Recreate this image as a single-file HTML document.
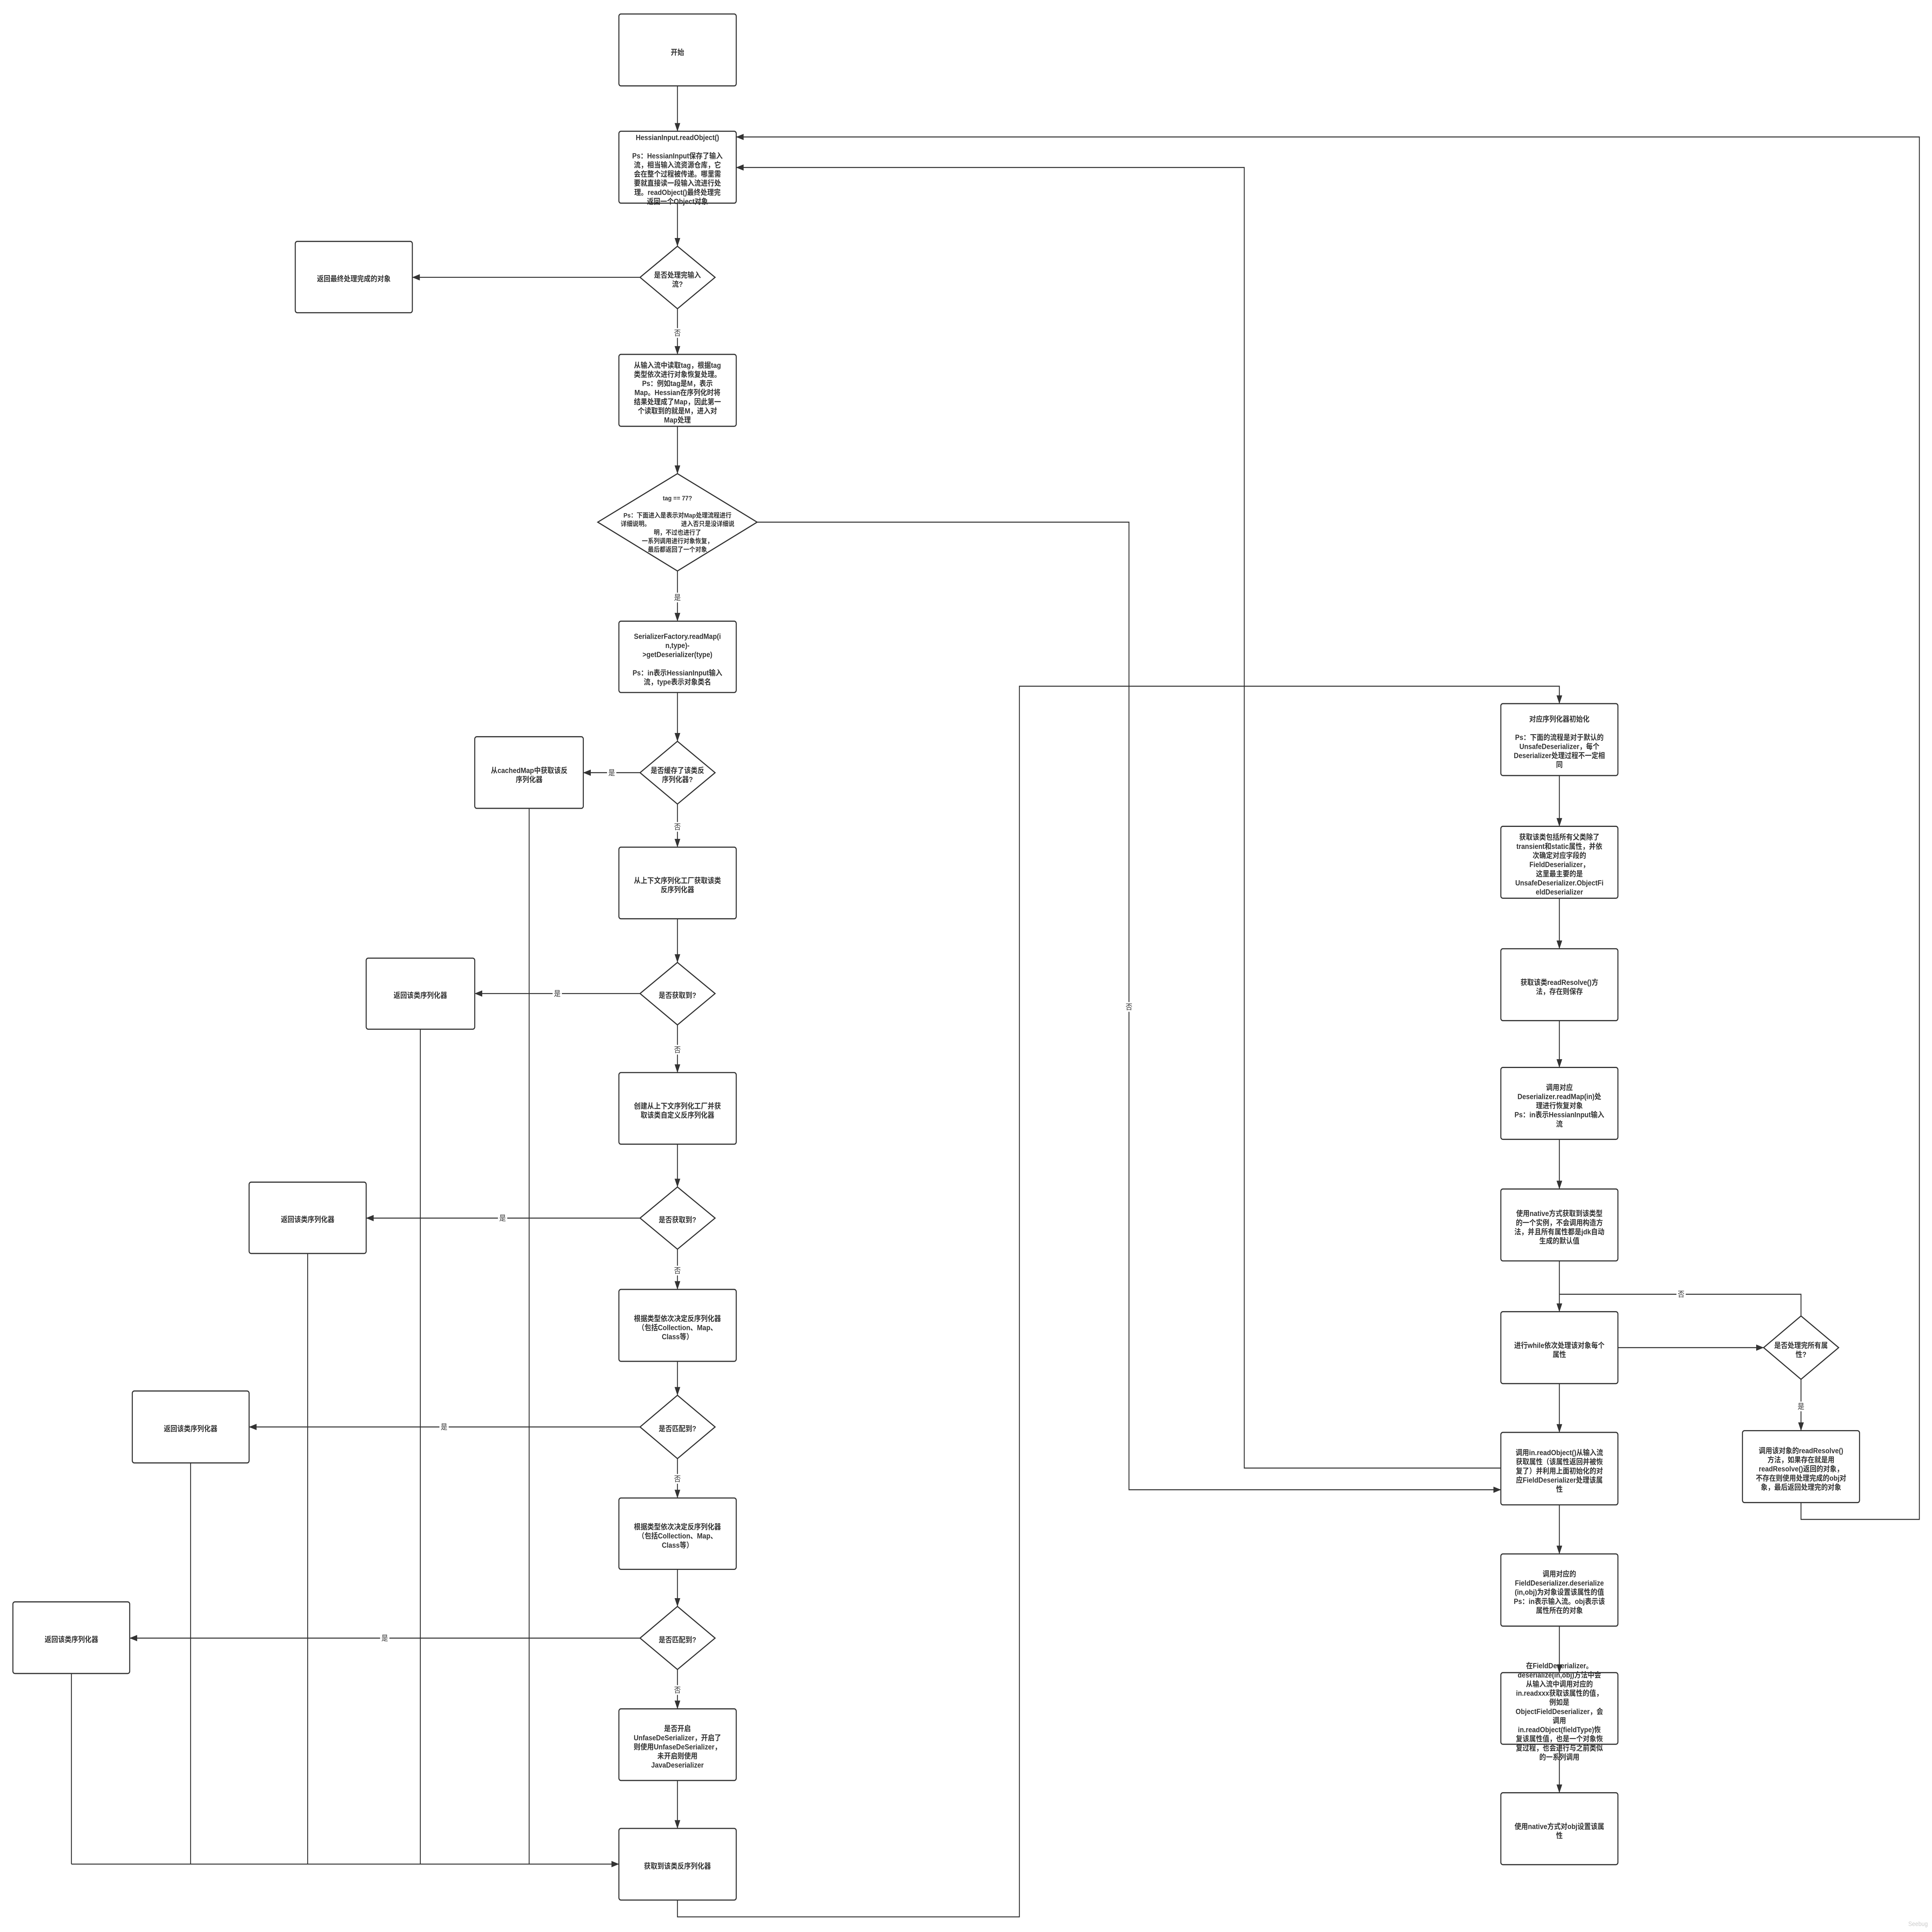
<!DOCTYPE html>
<html>
<head>
<meta charset="utf-8">
<style>
html,body{margin:0;padding:0;background:#fff;width:100vw;height:100vh;overflow:hidden;}
svg{position:fixed;left:0;top:0;width:100vw;height:100vh;display:block;}
</style>
</head>
<body>
<svg viewBox="0 0 7492 6771" preserveAspectRatio="none" xmlns="http://www.w3.org/2000/svg">
<defs>
<marker id="a" viewBox="0 0 30 22" refX="29" refY="11" markerWidth="30" markerHeight="22" orient="auto" markerUnits="userSpaceOnUse"><path d="M0,0L30,11L0,22z" fill="#333"/></marker>
</defs>
<rect x="0" y="0" width="7492" height="6771" fill="#fff"/>
<g fill="#fff" stroke="#333" stroke-width="4">
<rect x="2400" y="49" width="455" height="252" rx="8"/>
<rect x="2400" y="460" width="455" height="252" rx="8"/>
<polygon points="2627,863 2773,972 2627,1082 2482,972"/>
<rect x="2400" y="1242" width="455" height="252" rx="8"/>
<polygon points="2627,1660 2936,1830 2627,2001 2318,1830"/>
<rect x="2400" y="2177" width="455" height="250" rx="8"/>
<polygon points="2627,2598 2773,2708 2627,2818 2482,2708"/>
<rect x="2400" y="2969" width="455" height="251" rx="8"/>
<polygon points="2627,3373 2773,3482 2627,3592 2482,3482"/>
<rect x="2400" y="3759" width="455" height="251" rx="8"/>
<polygon points="2627,4160 2773,4269 2627,4378 2482,4269"/>
<rect x="2400" y="4519" width="455" height="252" rx="8"/>
<polygon points="2627,4890 2773,5001 2627,5112 2482,5001"/>
<rect x="2400" y="5250" width="455" height="250" rx="8"/>
<polygon points="2627,5630 2773,5741 2627,5851 2482,5741"/>
<rect x="2400" y="5989" width="455" height="251" rx="8"/>
<rect x="2400" y="6408" width="455" height="251" rx="8"/>
<rect x="1145" y="846" width="454" height="250" rx="8"/>
<rect x="1841" y="2582" width="421" height="251" rx="8"/>
<rect x="1420" y="3358" width="421" height="249" rx="8"/>
<rect x="966" y="4143" width="454" height="250" rx="8"/>
<rect x="513" y="4875" width="453" height="252" rx="8"/>
<rect x="50" y="5614" width="453" height="251" rx="8"/>
<rect x="5820" y="2466" width="454" height="252" rx="8"/>
<rect x="5820" y="2896" width="454" height="252" rx="8"/>
<rect x="5820" y="3325" width="454" height="252" rx="8"/>
<rect x="5820" y="3741" width="454" height="252" rx="8"/>
<rect x="5820" y="4167" width="454" height="252" rx="8"/>
<rect x="5820" y="4597" width="454" height="252" rx="8"/>
<rect x="5820" y="5020" width="454" height="254" rx="8"/>
<rect x="5820" y="5446" width="454" height="253" rx="8"/>
<rect x="5820" y="5862" width="454" height="251" rx="8"/>
<rect x="5820" y="6283" width="454" height="252" rx="8"/>
<polygon points="6984,4612 7130,4723 6984,4834 6839,4723"/>
<rect x="6757" y="5014" width="454" height="252" rx="8"/>
</g>
<g fill="none" stroke="#333" stroke-width="3.5">
<polyline points="2627,301 2627,460" marker-end="url(#a)"/>
<polyline points="2627,712 2627,863" marker-end="url(#a)"/>
<polyline points="2482,972 1599,972" marker-end="url(#a)"/>
<polyline points="2627,1082 2627,1242" marker-end="url(#a)"/>
<polyline points="2627,1494 2627,1660" marker-end="url(#a)"/>
<polyline points="2627,2001 2627,2177" marker-end="url(#a)"/>
<polyline points="2936,1830 4378,1830 4378,5221 5820,5221" marker-end="url(#a)"/>
<polyline points="2627,2427 2627,2598" marker-end="url(#a)"/>
<polyline points="2482,2708 2262,2708" marker-end="url(#a)"/>
<polyline points="2627,2818 2627,2969" marker-end="url(#a)"/>
<polyline points="2627,3220 2627,3373" marker-end="url(#a)"/>
<polyline points="2482,3482 1841,3482" marker-end="url(#a)"/>
<polyline points="2627,3592 2627,3759" marker-end="url(#a)"/>
<polyline points="2627,4010 2627,4160" marker-end="url(#a)"/>
<polyline points="2482,4269 1420,4269" marker-end="url(#a)"/>
<polyline points="2627,4378 2627,4519" marker-end="url(#a)"/>
<polyline points="2627,4771 2627,4890" marker-end="url(#a)"/>
<polyline points="2482,5001 966,5001" marker-end="url(#a)"/>
<polyline points="2627,5112 2627,5250" marker-end="url(#a)"/>
<polyline points="2627,5500 2627,5630" marker-end="url(#a)"/>
<polyline points="2482,5741 503,5741" marker-end="url(#a)"/>
<polyline points="2627,5851 2627,5989" marker-end="url(#a)"/>
<polyline points="2627,6240 2627,6408" marker-end="url(#a)"/>
<polyline points="2052,2833 2052,6533"/>
<polyline points="1630,3607 1630,6533"/>
<polyline points="1193,4393 1193,6533"/>
<polyline points="739,5127 739,6533"/>
<polyline points="277,5865 277,6533"/>
<polyline points="277,6533 2400,6533" marker-end="url(#a)"/>
<polyline points="2627,6659 2627,6718 3953,6718 3953,2405 6047,2405 6047,2466" marker-end="url(#a)"/>
<polyline points="6047,2718 6047,2896" marker-end="url(#a)"/>
<polyline points="6047,3148 6047,3325" marker-end="url(#a)"/>
<polyline points="6047,3577 6047,3741" marker-end="url(#a)"/>
<polyline points="6047,3993 6047,4167" marker-end="url(#a)"/>
<polyline points="6047,4419 6047,4597" marker-end="url(#a)"/>
<polyline points="6274,4723 6839,4723" marker-end="url(#a)"/>
<polyline points="6984,4612 6984,4536 6047,4536"/>
<polyline points="6984,4834 6984,5014" marker-end="url(#a)"/>
<polyline points="6984,5266 6984,5325 7443,5325 7443,480 2855,480" marker-end="url(#a)"/>
<polyline points="5820,5145 4825,5145 4825,587 2855,587" marker-end="url(#a)"/>
<polyline points="6047,4849 6047,5020" marker-end="url(#a)"/>
<polyline points="6047,5274 6047,5446" marker-end="url(#a)"/>
<polyline points="6047,5699 6047,5862" marker-end="url(#a)"/>
<polyline points="6047,6113 6047,6283" marker-end="url(#a)"/>
</g>

<!-- edge labels -->
<g fill="#fff" stroke="none">
<rect x="2609" y="1150" width="36" height="34"/>
<rect x="2609" y="2077" width="36" height="34"/>
<rect x="2354" y="2691" width="36" height="34"/>
<rect x="2609" y="2881" width="36" height="34"/>
<rect x="2143" y="3465" width="36" height="34"/>
<rect x="2609" y="3662" width="36" height="34"/>
<rect x="1931" y="4252" width="36" height="34"/>
<rect x="2609" y="4436" width="36" height="34"/>
<rect x="1704" y="4984" width="36" height="34"/>
<rect x="2609" y="5166" width="36" height="34"/>
<rect x="1474" y="5724" width="36" height="34"/>
<rect x="2609" y="5906" width="36" height="34"/>
<rect x="4360" y="3512" width="36" height="34"/>
<rect x="6501" y="4519" width="36" height="34"/>
<rect x="6966" y="4912" width="36" height="34"/>
</g>
<g font-family="'Liberation Sans','Noto Sans CJK SC',sans-serif" font-size="26" fill="#333" text-anchor="middle">
<text x="2627" y="1176">否</text>
<text x="2627" y="2103">是</text>
<text x="2372" y="2717">是</text>
<text x="2627" y="2907">否</text>
<text x="2161" y="3491">是</text>
<text x="2627" y="3688">否</text>
<text x="1949" y="4278">是</text>
<text x="2627" y="4462">否</text>
<text x="1722" y="5010">是</text>
<text x="2627" y="5192">否</text>
<text x="1492" y="5750">是</text>
<text x="2627" y="5932">否</text>
<text x="4378" y="3538">否</text>
<text x="6519" y="4545">否</text>
<text x="6984" y="4938">是</text>
</g>

<!-- node text -->
<g font-family="'Liberation Sans','Noto Sans CJK SC',sans-serif" font-size="26" font-weight="bold" fill="#333" text-anchor="middle">
<text x="2627" y="192">开始</text>
<text x="2627" y="491">HessianInput.readObject()<tspan x="2627" dy="64">Ps：HessianInput保存了输入</tspan><tspan x="2627" dy="32">流，相当输入流资源仓库，它</tspan><tspan x="2627" dy="32">会在整个过程被传递。哪里需</tspan><tspan x="2627" dy="32">要就直接读一段输入流进行处</tspan><tspan x="2627" dy="32">理。readObject()最终处理完</tspan><tspan x="2627" dy="32">返回一个Object对象</tspan></text>
<text x="2627" y="973">是否处理完输入<tspan x="2627" dy="32">流?</tspan></text>
<text x="2627" y="1289">从输入流中读取tag，根据tag<tspan x="2627" dy="32">类型依次进行对象恢复处理。</tspan><tspan x="2627" dy="32">Ps：例如tag是M，表示</tspan><tspan x="2627" dy="32">Map。Hessian在序列化时将</tspan><tspan x="2627" dy="32">结果处理成了Map，因此第一</tspan><tspan x="2627" dy="32">个读取到的就是M，进入对</tspan><tspan x="2627" dy="32">Map处理</tspan></text>
<g font-size="23">
<text x="2627" y="1754">tag == 77?</text>
<text x="2627" y="1814">Ps：下面进入是表示对Map处理流程进行</text>
<text x="2407" y="1844" text-anchor="start">详细说明。</text>
<text x="2848" y="1844" text-anchor="end">进入否只是没详细说</text>
<text x="2627" y="1874">明，不过也进行了</text>
<text x="2627" y="1904">一系列调用进行对象恢复，</text>
<text x="2627" y="1934">最后都返回了一个对象</text>
</g>
<text x="2627" y="2239">SerializerFactory.readMap(i<tspan x="2627" dy="32">n,type)-</tspan><tspan x="2627" dy="32">&gt;getDeserializer(type)</tspan><tspan x="2627" dy="64">Ps：in表示HessianInput输入</tspan><tspan x="2627" dy="32">流，type表示对象类名</tspan></text>
<text x="2627" y="2709">是否缓存了该类反<tspan x="2627" dy="32">序列化器?</tspan></text>
<text x="2627" y="3095">从上下文序列化工厂获取该类<tspan x="2627" dy="32">反序列化器</tspan></text>
<text x="2627" y="3497">是否获取到?</text>
<text x="2627" y="3885">创建从上下文序列化工厂并获<tspan x="2627" dy="32">取该类自定义反序列化器</tspan></text>
<text x="2627" y="4284">是否获取到?</text>
<text x="2627" y="4630">根据类型依次决定反序列化器<tspan x="2627" dy="32">（包括Collection、Map、</tspan><tspan x="2627" dy="32">Class等）</tspan></text>
<text x="2627" y="5016">是否匹配到?</text>
<text x="2627" y="5360">根据类型依次决定反序列化器<tspan x="2627" dy="32">（包括Collection、Map、</tspan><tspan x="2627" dy="32">Class等）</tspan></text>
<text x="2627" y="5756">是否匹配到?</text>
<text x="2627" y="6067">是否开启<tspan x="2627" dy="32">UnfaseDeSerializer，开启了</tspan><tspan x="2627" dy="32">则使用UnfaseDeSerializer，</tspan><tspan x="2627" dy="32">未开启则使用</tspan><tspan x="2627" dy="32">JavaDeserializer</tspan></text>
<text x="2627" y="6549">获取到该类反序列化器</text>

<text x="1372" y="986">返回最终处理完成的对象</text>
<text x="2052" y="2709">从cachedMap中获取该反<tspan x="2052" dy="32">序列化器</tspan></text>
<text x="1630" y="3497">返回该类序列化器</text>
<text x="1193" y="4283">返回该类序列化器</text>
<text x="739" y="5016">返回该类序列化器</text>
<text x="277" y="5755">返回该类序列化器</text>

<text x="6047" y="2529">对应序列化器初始化<tspan x="6047" dy="64">Ps：下面的流程是对于默认的</tspan><tspan x="6047" dy="32">UnsafeDeserializer，每个</tspan><tspan x="6047" dy="32">Deserializer处理过程不一定相</tspan><tspan x="6047" dy="32">同</tspan></text>
<text x="6047" y="2943">获取该类包括所有父类除了<tspan x="6047" dy="32">transient和static属性，并依</tspan><tspan x="6047" dy="32">次确定对应字段的</tspan><tspan x="6047" dy="32">FieldDeserializer，</tspan><tspan x="6047" dy="32">这里最主要的是</tspan><tspan x="6047" dy="32">UnsafeDeserializer.ObjectFi</tspan><tspan x="6047" dy="32">eldDeserializer</tspan></text>
<text x="6047" y="3452">获取该类readResolve()方<tspan x="6047" dy="32">法，存在则保存</tspan></text>
<text x="6047" y="3820">调用对应<tspan x="6047" dy="32">Deserializer.readMap(in)处</tspan><tspan x="6047" dy="32">理进行恢复对象</tspan><tspan x="6047" dy="32">Ps：in表示HessianInput输入</tspan><tspan x="6047" dy="32">流</tspan></text>
<text x="6047" y="4262">使用native方式获取到该类型<tspan x="6047" dy="32">的一个实例，不会调用构造方</tspan><tspan x="6047" dy="32">法，并且所有属性都是jdk自动</tspan><tspan x="6047" dy="32">生成的默认值</tspan></text>
<text x="6047" y="4724">进行while依次处理该对象每个<tspan x="6047" dy="32">属性</tspan></text>
<text x="6047" y="5100">调用in.readObject()从输入流<tspan x="6047" dy="32">获取属性（该属性返回并被恢</tspan><tspan x="6047" dy="32">复了）并利用上面初始化的对</tspan><tspan x="6047" dy="32">应FieldDeserializer处理该属</tspan><tspan x="6047" dy="32">性</tspan></text>
<text x="6047" y="5525">调用对应的<tspan x="6047" dy="32">FieldDeserializer.deserialize</tspan><tspan x="6047" dy="32">(in,obj)为对象设置该属性的值</tspan><tspan x="6047" dy="32">Ps：in表示输入流。obj表示该</tspan><tspan x="6047" dy="32">属性所在的对象</tspan></text>
<text x="6047" y="5847">在FieldDeserializer。<tspan x="6047" dy="32">deserialize(in,obj)方法中会</tspan><tspan x="6047" dy="32">从输入流中调用对应的</tspan><tspan x="6047" dy="32">in.readxxx获取该属性的值，</tspan><tspan x="6047" dy="32">例如是</tspan><tspan x="6047" dy="32">ObjectFieldDeserializer，会</tspan><tspan x="6047" dy="32">调用</tspan><tspan x="6047" dy="32">in.readObject(fieldType)恢</tspan><tspan x="6047" dy="32">复该属性值，也是一个对象恢</tspan><tspan x="6047" dy="32">复过程，也会进行与之前类似</tspan><tspan x="6047" dy="32">的一系列调用</tspan></text>
<text x="6047" y="6410">使用native方式对obj设置该属<tspan x="6047" dy="32">性</tspan></text>
<text x="6984" y="4724">是否处理完所有属<tspan x="6984" dy="32">性?</tspan></text>
<text x="6984" y="5093">调用该对象的readResolve()<tspan x="6984" dy="32">方法，如果存在就是用</tspan><tspan x="6984" dy="32">readResolve()返回的对象，</tspan><tspan x="6984" dy="32">不存在则使用处理完成的obj对</tspan><tspan x="6984" dy="32">象，最后返回处理完的对象</tspan></text>
</g>
<text x="7400" y="6750" font-family="'Liberation Sans',sans-serif" font-size="22" fill="#ccc">Seebug</text>
</svg>
</body>
</html>
